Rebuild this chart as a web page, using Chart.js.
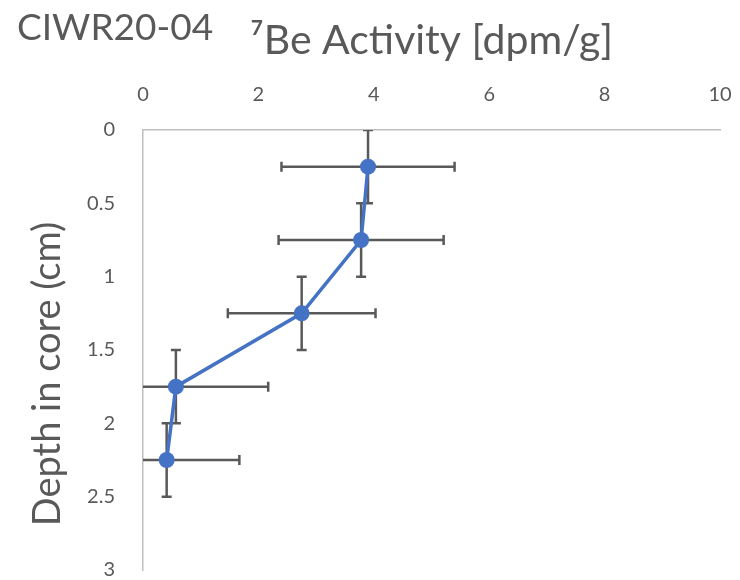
<!DOCTYPE html>
<html>
<head>
<meta charset="utf-8">
<script src="https://cdn.jsdelivr.net/npm/chart.js@4"></script>
<style>
  body { margin: 0; background: #fff; }
  #wrap { position: relative; width: 740px; height: 580px; }
  #core { position: absolute; left: 17px; top: 4px; font: 37px/1.2 Lato, "Noto Sans", sans-serif; color: #595959; white-space: nowrap; }
</style>
</head>
<body>
<div id="wrap">
  <canvas id="myChart" width="740" height="580"></canvas>
  <div id="core">CIWR20-04</div>
</div>
<script>
// depth (cm) of each slice and its 7Be activity (dpm/g)
const depth = [0.25, 0.75, 1.25, 1.75, 2.25];
const activity = [3.9, 3.78, 2.75, 0.57, 0.41];
const activityErr = [1.5, 1.43, 1.28, 1.6, 1.26];
const depthErr = [0.25, 0.25, 0.25, 0.25, 0.25];
const xTicks = [0, 2, 4, 6, 8, 10];
const yTicks = [0, 0.5, 1, 1.5, 2, 2.5, 3];

const grey = '#595959';
const axisGrey = '#bfbfbf';
const fontFam = 'Lato, "Noto Sans", "DejaVu Sans", sans-serif';
const yTitle = 'Depth in core (cm)';

// excel style error bars, drawn under the line and markers
const errorBars = {
  id: 'errorBars',
  beforeDatasetsDraw(chart) {
    const {ctx, chartArea, scales: {x, y}} = chart;
    const cap = 5;
    ctx.save();
    ctx.beginPath();
    ctx.rect(chartArea.left, chartArea.top, chartArea.right - chartArea.left, chartArea.bottom - chartArea.top);
    ctx.clip();
    ctx.strokeStyle = grey;
    ctx.lineWidth = 2.5;
    for (let i = 0; i < depth.length; i++) {
      const px = x.getPixelForValue(activity[i]);
      const py = y.getPixelForValue(depth[i]);
      const x1 = x.getPixelForValue(activity[i] - activityErr[i]);
      const x2 = x.getPixelForValue(activity[i] + activityErr[i]);
      const y1 = y.getPixelForValue(depth[i] - depthErr[i]);
      const y2 = y.getPixelForValue(depth[i] + depthErr[i]);
      ctx.beginPath();
      ctx.moveTo(x1, py); ctx.lineTo(x2, py);
      ctx.moveTo(x1, py - cap); ctx.lineTo(x1, py + cap);
      ctx.moveTo(x2, py - cap); ctx.lineTo(x2, py + cap);
      ctx.moveTo(px, y1); ctx.lineTo(px, y2);
      ctx.moveTo(px - cap, y1); ctx.lineTo(px + cap, y1);
      ctx.moveTo(px - cap, y2); ctx.lineTo(px + cap, y2);
      ctx.stroke();
    }
    ctx.restore();
  }
};

// y title sits a bit below the middle of the plot, like the excel original
const depthTitle = {
  id: 'depthTitle',
  afterDraw(chart) {
    const {ctx, chartArea} = chart;
    ctx.save();
    ctx.translate(48, (chartArea.top + chartArea.bottom) / 2 + 24);
    ctx.rotate(-Math.PI / 2);
    ctx.font = '38px ' + fontFam;
    ctx.fillStyle = grey;
    ctx.textAlign = 'center';
    ctx.textBaseline = 'middle';
    ctx.fillText(yTitle, 0, 0);
    ctx.restore();
  }
};

const ctx = document.getElementById('myChart');

new Chart(ctx, {
  type: 'scatter',
  data: {
    datasets: [{
      label: '7Be',
      data: depth.map((d, i) => ({x: activity[i], y: d})),
      showLine: true,
      borderColor: '#4472c4',
      backgroundColor: '#4472c4',
      borderWidth: 3.5,
      pointRadius: 8,
      pointBorderWidth: 0,
      tension: 0
    }]
  },
  options: {
    responsive: false,
    animation: false,
    layout: { padding: { top: 0, left: 0, right: 20, bottom: 10 } },
    plugins: {
      legend: { display: false },
      tooltip: { enabled: false }
    },
    scales: {
      x: {
        type: 'linear',
        position: 'top',
        min: 0,
        max: 10,
        afterBuildTicks: s => { s.ticks = xTicks.map(v => ({value: v})); },
        afterFit: s => { s.height = 130; s.paddingLeft = 0; s.paddingRight = 0; },
        ticks: { padding: 23, color: grey, font: { family: fontFam, size: 20 }, callback: v => String(v) },
        grid: { display: false, drawTicks: false },
        border: { color: axisGrey, width: 1.5 },
        title: {
          display: true,
          text: '\u2077Be Activity [dpm/g]',
          color: grey,
          font: { family: fontFam, size: 41 },
          padding: { top: 16, bottom: 0 }
        }
      },
      y: {
        type: 'linear',
        min: 0,
        max: 3,
        reverse: true,
        afterBuildTicks: s => { s.ticks = yTicks.map(v => ({value: v})); },
        afterFit: s => { s.width = 143; s.paddingTop = 0; s.paddingBottom = 0; },
        ticks: { padding: 28, color: grey, font: { family: fontFam, size: 20 }, callback: v => String(v) },
        grid: { display: false, drawTicks: false },
        border: { color: axisGrey, width: 1.5 }
      }
    }
  },
  plugins: [errorBars, depthTitle]
});
</script>
</body>
</html>
